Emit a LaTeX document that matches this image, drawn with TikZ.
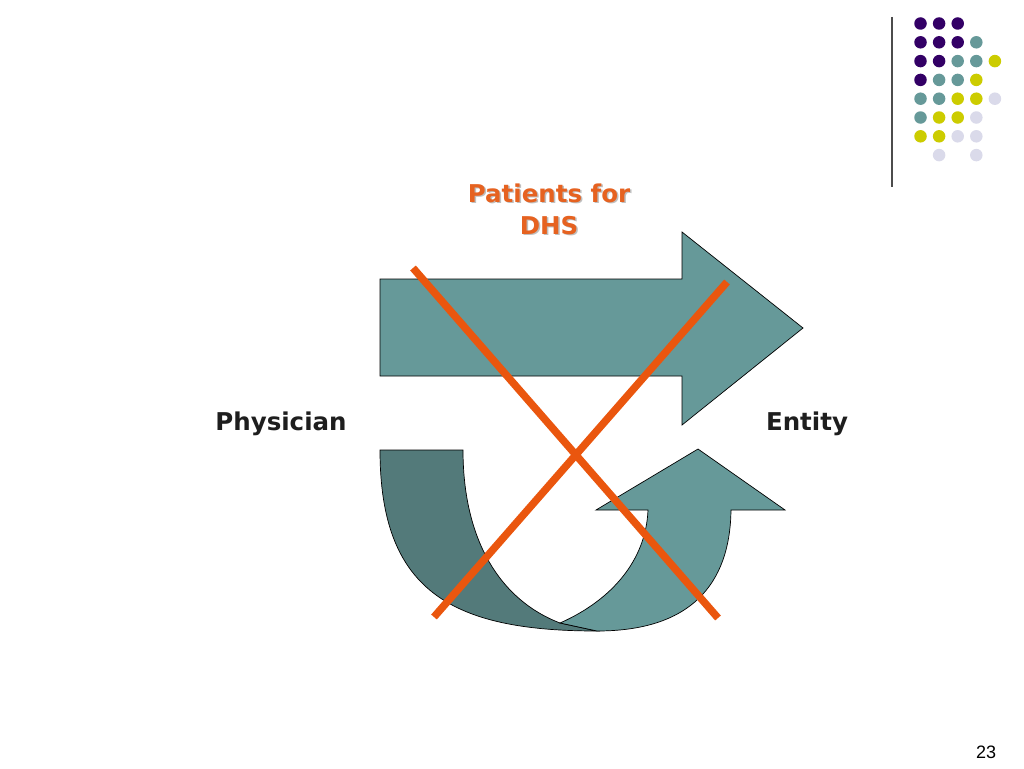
\documentclass[tikz,border=0pt]{standalone}
\usepackage{fontspec}
\usepackage{tikz}
\newfontfamily\verd{DejaVu Sans}
\newfontfamily\arial{Liberation Sans}
\definecolor{dot_purple}{RGB}{51,0,102}
\definecolor{dot_teal}{RGB}{102,153,153}
\definecolor{dot_yellow}{RGB}{204,204,0}
\definecolor{dot_lav}{RGB}{218,218,234}
\definecolor{arrow_teal}{RGB}{102,153,153}
\definecolor{arrow_dark}{RGB}{83,122,122}
\definecolor{cross_orange}{RGB}{234,86,14}
\definecolor{text_orange}{RGB}{230,98,32}
\definecolor{text_dark}{RGB}{30,30,30}

\begin{document}
\begin{tikzpicture}[x=1pt,y=-1pt]
    \tikzstyle{dot}=[circle, inner sep=0pt, minimum size=12.5pt, draw=none]
    \tikzstyle{band}=[draw=black, line width=0.7pt, line join=miter]
    \tikzstyle{cross}=[draw=cross_orange, line width=7.5pt]
    \tikzstyle{label}=[text=text_dark, font=\verd\bfseries\fontsize{24.5}{30}\selectfont, anchor=base]
    \tikzstyle{title}=[font=\verd\bfseries\fontsize{24.5}{32}\selectfont, align=center, anchor=base]

    \useasboundingbox[fill=white] (0,0) rectangle (1024,768);

    % dots and rule, top right
    \draw[color=black!70, line width=1.2pt] (892,17) -- (892,187);
    \foreach \c/\r/\col in {0/0/dot_purple,1/0/dot_purple,2/0/dot_purple,
        0/1/dot_purple,1/1/dot_purple,2/1/dot_purple,3/1/dot_teal,
        0/2/dot_purple,1/2/dot_purple,2/2/dot_teal,3/2/dot_teal,4/2/dot_yellow,
        0/3/dot_purple,1/3/dot_teal,2/3/dot_teal,3/3/dot_yellow,
        0/4/dot_teal,1/4/dot_teal,2/4/dot_yellow,3/4/dot_yellow,4/4/dot_lav,
        0/5/dot_teal,1/5/dot_yellow,2/5/dot_yellow,3/5/dot_lav,
        0/6/dot_yellow,1/6/dot_yellow,2/6/dot_lav,3/6/dot_lav,
        1/7/dot_lav,3/7/dot_lav}
      \node[dot, fill=\col] (d-\c-\r) at (920.5+18.6*\c, 23.5+18.8*\r) {};

    % straight arrow
    \path[band, fill=arrow_teal] (380,279) -- (682,279) -- (682,232) -- (803,328)
        -- (682,425) -- (682,376) -- (380,376) -- cycle;

    % curved arrow, back part
    \path[band, fill=arrow_dark] (380,450) -- (463,450)
        .. controls (463,540) and (500,600) .. (560,623) -- (597,631)
        .. controls (450,631) and (380,590) .. (380,450) -- cycle;
    % curved arrow, front part
    \path[band, fill=arrow_teal] (560,623)
        .. controls (612,600) and (646,560) .. (648,510)
        -- (596,510) -- (698,449) -- (785,510) -- (731,510)
        .. controls (730,585) and (690,631) .. (597,631) -- cycle;

    \node[label] (phys) at (281,430) {Physician};
    \node[label] (ent)  at (807,430) {Entity};

    \node[title, text=black!25] (pshadow) at (550.5,235.5) {Patients for\\DHS};
    \node[title, text=text_orange] (pat) at (549,234) {Patients for\\DHS};

    % cross
    \coordinate (x1) at (413,268);
    \coordinate (x2) at (718,618);
    \coordinate (x3) at (727,282);
    \coordinate (x4) at (434,617);
    \draw[cross] (x1) -- (x2);
    \draw[cross] (x3) -- (x4);

    \node[font=\arial\fontsize{18}{20}\selectfont, anchor=base] (page) at (986,758) {23};
\end{tikzpicture}
\end{document}
